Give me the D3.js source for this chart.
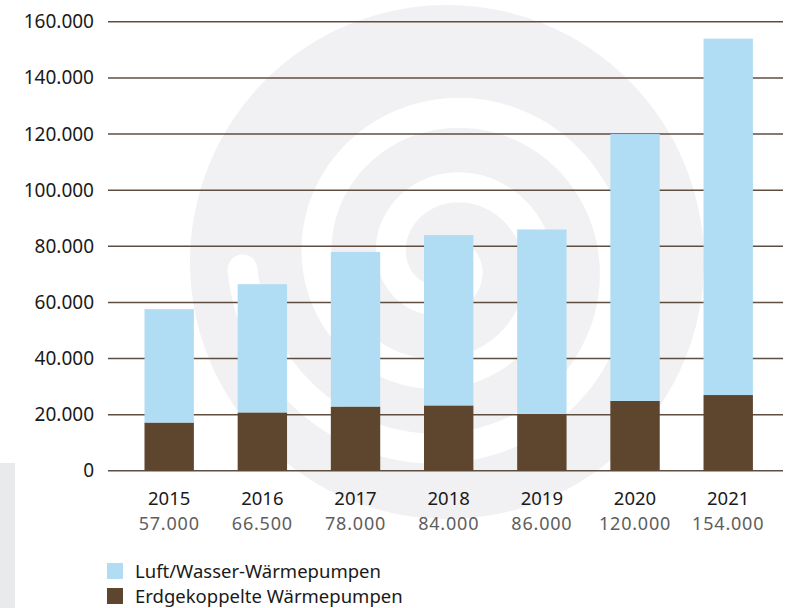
<!DOCTYPE html>
<html>
<head>
<meta charset="utf-8">
<script src="https://cdn.jsdelivr.net/npm/d3@7"></script>
<style>
  body { margin: 0; background: #fff; }
  text { font-family: "Noto Sans", sans-serif; }
</style>
</head>
<body>
<div id="chart-area"></div>
<script>

// Data
var years = ["2015", "2016", "2017", "2018", "2019", "2020", "2021"];
var erdgekoppelt = [17200, 20800, 22900, 23300, 20300, 24900, 27000];
var luftWasser = [40400, 45700, 55100, 60700, 65700, 95100, 127000];
var totalLabels = [57000, 66500, 78000, 84000, 86000, 120000, 154000];
var yTicks = [0, 20000, 40000, 60000, 80000, 100000, 120000, 140000, 160000];
var seriesNames = ["Luft/Wasser-Wärmepumpen", "Erdgekoppelte Wärmepumpen"];
var seriesColors = ["#b0ddf3", "#5d452e"];

// SVG Size
var width = 789,
		height = 608;

var de = d3.formatLocale({ decimal: ",", thousands: ".", grouping: [3], currency: ["", "€"] });
var fmt = de.format(",");

var svg = d3.select("#chart-area").append("svg")
	.attr("width", width)
	.attr("height", height);

// grey strip at the left edge
svg.append("rect")
	.attr("x", 0).attr("y", 463)
	.attr("width", 15).attr("height", 145)
	.attr("fill", "#e9eaec");

// watermark: grey disc with a white spiral gap
var cx = 447, cy = 262;
svg.append("circle")
	.attr("cx", cx).attr("cy", cy).attr("r", 257)
	.attr("fill", "#f1f0f2");

var spiralPts = [];
for (var a = Math.PI - 2 * Math.PI * 2.6; a <= Math.PI; a += 0.05) {
	var r = 205 - 75 * (Math.PI - a) / (2 * Math.PI);
	spiralPts.push([cx + r * Math.cos(a), cy + r * Math.sin(a)]);
}
svg.append("path")
	.attr("d", d3.line()(spiralPts))
	.attr("fill", "none")
	.attr("stroke", "#fff")
	.attr("stroke-width", 30)
	.attr("stroke-linecap", "round");

// scales
var x = d3.scaleBand()
	.domain(years)
	.range([122.6, 774.8])
	.paddingInner(0.47)
	.paddingOuter(0.235);

var y = d3.scaleLinear()
	.domain([0, 160000])
	.range([470.8, 21.8]);

// gridlines
svg.selectAll(".grid")
	.data(yTicks)
	.enter()
	.append("line")
	.attr("class", "grid")
	.attr("x1", 108)
	.attr("x2", 783)
	.attr("y1", function(d) { return y(d); })
	.attr("y2", function(d) { return y(d); })
	.attr("stroke", "#5f4e40")
	.attr("stroke-width", 1.6);

// y axis labels
svg.selectAll(".ylabel")
	.data(yTicks)
	.enter()
	.append("text")
	.attr("class", "ylabel")
	.attr("x", 94)
	.attr("y", function(d) { return y(d) + 6.5; })
	.attr("text-anchor", "end")
	.attr("font-size", 19)
	.attr("fill", "#1a1a1a")
	.text(function(d) { return fmt(d); });

// stacked bars
var rows = years.map(function(yr, i) {
	return { year: yr, erd: erdgekoppelt[i], luft: luftWasser[i] };
});
var stack = d3.stack().keys(["erd", "luft"]);
var layers = stack(rows);

svg.selectAll(".layer")
	.data(layers)
	.enter()
	.append("g")
	.attr("class", "layer")
	.attr("fill", function(d) { return d.key === "erd" ? seriesColors[1] : seriesColors[0]; })
	.selectAll("rect")
	.data(function(d) { return d; })
	.enter()
	.append("rect")
	.attr("x", function(d) { return x(d.data.year); })
	.attr("width", x.bandwidth())
	.attr("y", function(d) { return y(d[1]); })
	.attr("height", function(d) { return y(d[0]) - y(d[1]); });

// x labels: year and total
svg.selectAll(".year")
	.data(years)
	.enter()
	.append("text")
	.attr("class", "year")
	.attr("x", function(d) { return x(d) + x.bandwidth() / 2; })
	.attr("y", 505)
	.attr("text-anchor", "middle")
	.attr("font-size", 18.5)
	.attr("fill", "#1a1a1a")
	.text(function(d) { return d; });

svg.selectAll(".total")
	.data(totalLabels)
	.enter()
	.append("text")
	.attr("class", "total")
	.attr("x", function(d, i) { return x(years[i]) + x.bandwidth() / 2; })
	.attr("y", 530)
	.attr("text-anchor", "middle")
	.attr("font-size", 18)
	.attr("letter-spacing", 0.8)
	.attr("fill", "#5e5e5e")
	.text(function(d) { return fmt(d); });

// legend
var legend = svg.selectAll(".legend")
	.data(seriesNames)
	.enter()
	.append("g")
	.attr("class", "legend")
	.attr("transform", function(d, i) { return "translate(107," + (563 + i * 25) + ")"; });

legend.append("rect")
	.attr("width", 16)
	.attr("height", 16)
	.attr("fill", function(d, i) { return seriesColors[i]; });

legend.append("text")
	.attr("x", 28)
	.attr("y", 15)
	.attr("font-size", 18.5)
	.attr("fill", "#1a1a1a")
	.text(function(d) { return d; });

</script>
</body>
</html>
